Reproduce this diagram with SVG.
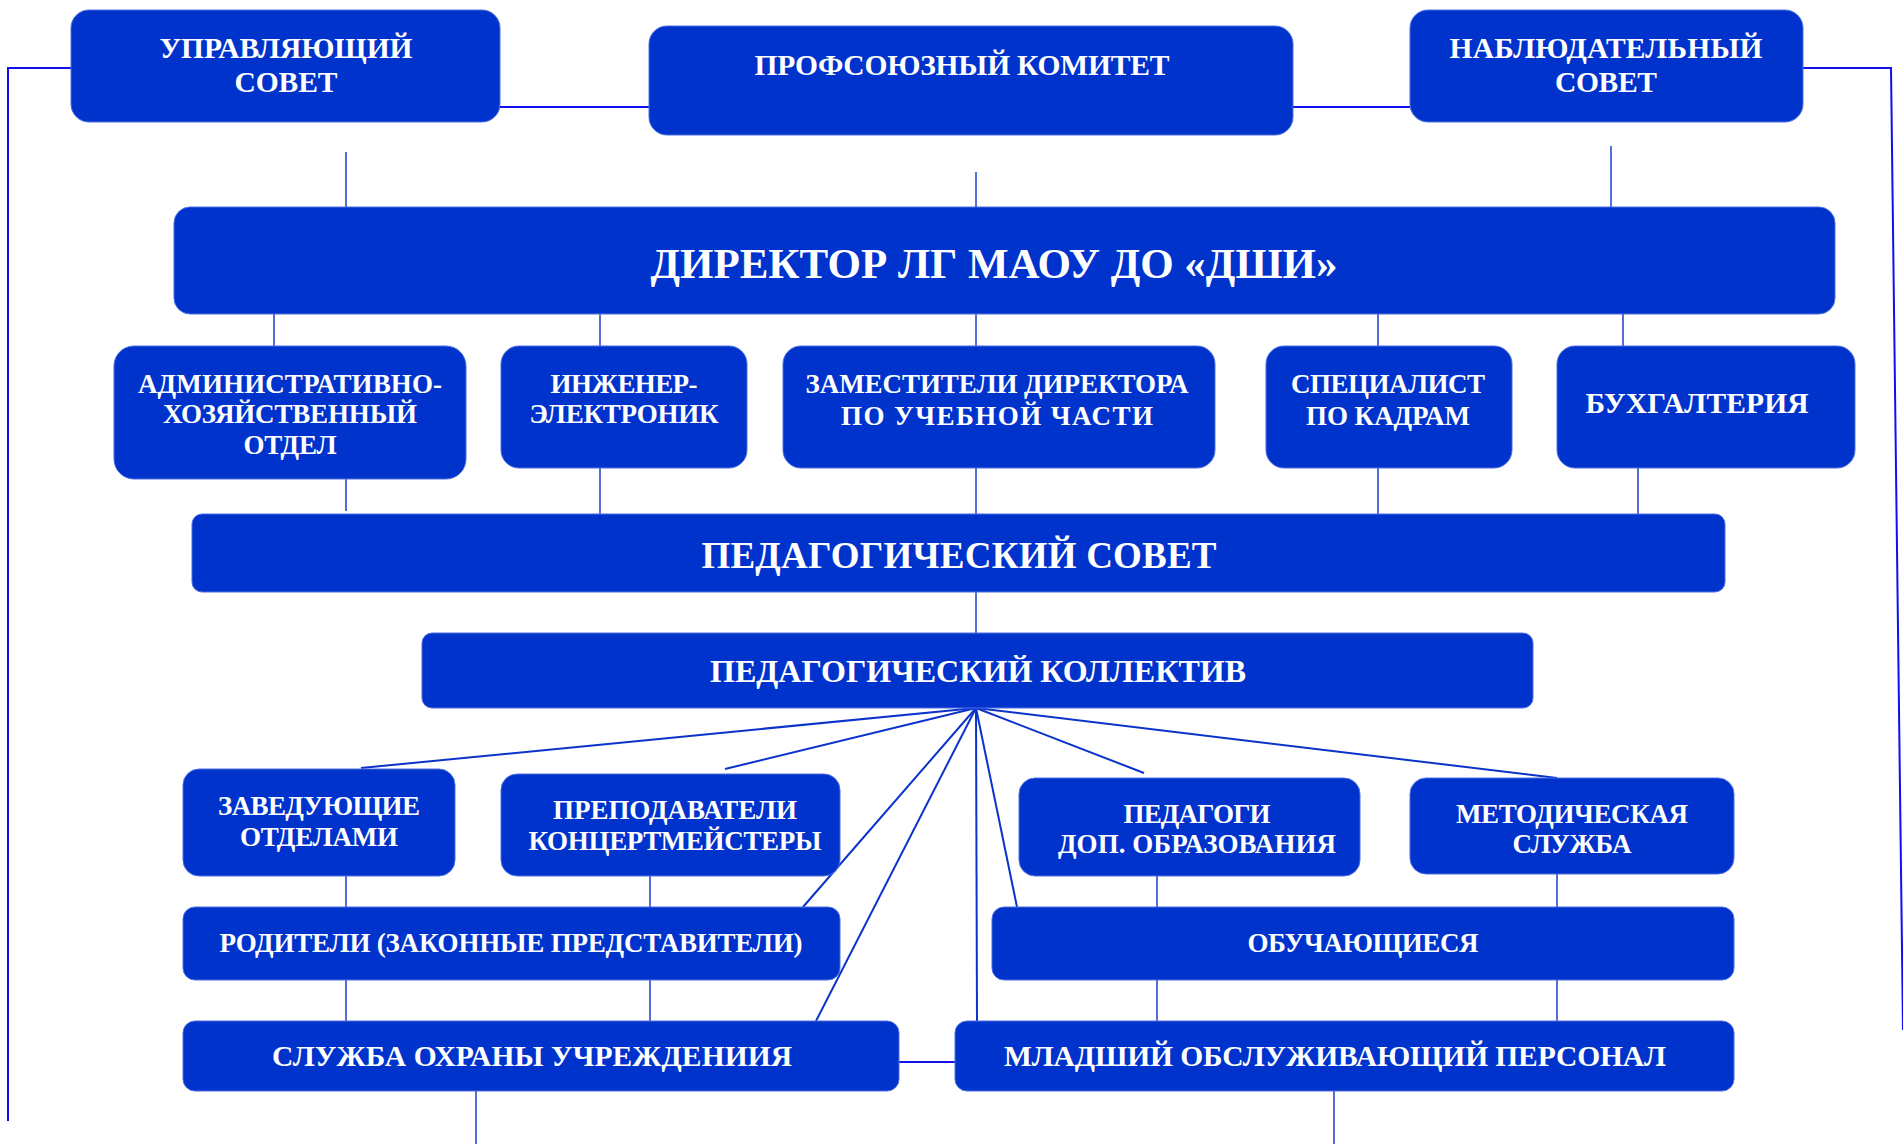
<svg xmlns="http://www.w3.org/2000/svg" width="1903" height="1144" viewBox="0 0 1903 1144">
<style>
.box{fill:#0033cc;stroke:#4d6fe0;stroke-width:1}
.t{fill:#ffffff;font-family:"Liberation Serif","Times New Roman",serif;font-weight:bold;text-anchor:middle}
.s27{font-size:27px}
.s29{font-size:29.5px}
.c{stroke:#2a4bd0;stroke-width:1.6;fill:none}
.o{stroke:#1010ee;stroke-width:2;fill:none}
.f{stroke:#0a33cc;stroke-width:2;fill:none}
</style>
<rect width="1903" height="1144" fill="#ffffff"/>
<g id="connectors">
  <polyline class="o" points="71,68 8,68 8,1121"/>
  <polyline class="o" points="1803,68 1891,68 1903,1030"/>
  <line class="o" x1="500" y1="107" x2="650" y2="107"/>
  <line class="o" x1="1293" y1="107" x2="1410" y2="107"/>
  <line class="c" x1="346" y1="152" x2="346" y2="207"/>
  <line class="c" x1="976" y1="172" x2="976" y2="207"/>
  <line class="c" x1="1611" y1="146" x2="1611" y2="207"/>
  <line class="c" x1="274" y1="314" x2="274" y2="346"/>
  <line class="c" x1="600" y1="314" x2="600" y2="346"/>
  <line class="c" x1="976" y1="314" x2="976" y2="346"/>
  <line class="c" x1="1378" y1="314" x2="1378" y2="346"/>
  <line class="c" x1="1623" y1="314" x2="1623" y2="346"/>
  <line class="c" x1="346" y1="479" x2="346" y2="511"/>
  <line class="c" x1="600" y1="468" x2="600" y2="514"/>
  <line class="c" x1="976" y1="468" x2="976" y2="514"/>
  <line class="c" x1="1378" y1="468" x2="1378" y2="514"/>
  <line class="c" x1="1638" y1="468" x2="1638" y2="514"/>
  <line class="c" x1="976" y1="592" x2="976" y2="633"/>
  <line class="f" x1="976" y1="708" x2="361" y2="768"/>
  <line class="f" x1="976" y1="708" x2="725" y2="769"/>
  <line class="f" x1="976" y1="708" x2="803" y2="907"/>
  <line class="f" x1="976" y1="708" x2="816" y2="1021"/>
  <line class="f" x1="976" y1="708" x2="977" y2="1021"/>
  <line class="f" x1="976" y1="708" x2="1017" y2="907"/>
  <line class="f" x1="976" y1="708" x2="1144" y2="773"/>
  <line class="f" x1="976" y1="708" x2="1557" y2="778"/>
  <line class="c" x1="346" y1="876" x2="346" y2="907"/>
  <line class="c" x1="650" y1="876" x2="650" y2="907"/>
  <line class="c" x1="346" y1="980" x2="346" y2="1021"/>
  <line class="c" x1="650" y1="980" x2="650" y2="1021"/>
  <line class="c" x1="1157" y1="876" x2="1157" y2="907"/>
  <line class="c" x1="1557" y1="874" x2="1557" y2="907"/>
  <line class="c" x1="1157" y1="980" x2="1157" y2="1021"/>
  <line class="c" x1="1557" y1="980" x2="1557" y2="1021"/>
  <line class="c" x1="476" y1="1091" x2="476" y2="1144"/>
  <line class="c" x1="1334" y1="1091" x2="1334" y2="1144"/>
  <line class="o" x1="899" y1="1062" x2="955" y2="1062" stroke-width="2.5"/>
</g>
<g id="upravl">
  <rect class="box" x="71" y="10" width="429" height="112" rx="18"/>
  <text class="t s29" x="286" y="58" textLength="253" lengthAdjust="spacing">УПРАВЛЯЮЩИЙ</text>
  <text class="t s29" x="286" y="92" textLength="103" lengthAdjust="spacing">СОВЕТ</text>
</g>
<g id="profsoyuz">
  <rect class="box" x="649" y="26" width="644" height="109" rx="18"/>
  <text class="t s29" x="962" y="75" textLength="415" lengthAdjust="spacing">ПРОФСОЮЗНЫЙ КОМИТЕТ</text>
</g>
<g id="nabl">
  <rect class="box" x="1410" y="10" width="393" height="112" rx="18"/>
  <text class="t s29" x="1606" y="58" textLength="313" lengthAdjust="spacing">НАБЛЮДАТЕЛЬНЫЙ</text>
  <text class="t s29" x="1606" y="92" textLength="102" lengthAdjust="spacing">СОВЕТ</text>
</g>
<g id="director">
  <rect class="box" x="174" y="207" width="1661" height="107" rx="16"/>
  <text class="t" style="font-size:43px" x="994" y="278" textLength="687" lengthAdjust="spacing">ДИРЕКТОР ЛГ МАОУ ДО «ДШИ»</text>
</g>
<g id="aho">
  <rect class="box" x="114" y="346" width="352" height="133" rx="20"/>
  <text class="t s27" x="290" y="393" textLength="304" lengthAdjust="spacing">АДМИНИСТРАТИВНО-</text>
  <text class="t s27" x="290" y="423" textLength="254" lengthAdjust="spacing">ХОЗЯЙСТВЕННЫЙ</text>
  <text class="t s27" x="290" y="454" textLength="93" lengthAdjust="spacing">ОТДЕЛ</text>
</g>
<g id="engineer">
  <rect class="box" x="501" y="346" width="246" height="122" rx="18"/>
  <text class="t s27" x="624" y="393" textLength="147" lengthAdjust="spacing">ИНЖЕНЕР-</text>
  <text class="t s27" x="624" y="423" textLength="189" lengthAdjust="spacing">ЭЛЕКТРОНИК</text>
</g>
<g id="zam">
  <rect class="box" x="783" y="346" width="432" height="122" rx="18"/>
  <text class="t s27" x="997" y="393" textLength="383" lengthAdjust="spacing">ЗАМЕСТИТЕЛИ ДИРЕКТОРА</text>
  <text class="t s27" x="997" y="425" textLength="312" lengthAdjust="spacing">ПО УЧЕБНОЙ ЧАСТИ</text>
</g>
<g id="kadry">
  <rect class="box" x="1266" y="346" width="246" height="122" rx="18"/>
  <text class="t s27" x="1388" y="393" textLength="194" lengthAdjust="spacing">СПЕЦИАЛИСТ</text>
  <text class="t s27" x="1388" y="425" textLength="164" lengthAdjust="spacing">ПО КАДРАМ</text>
</g>
<g id="buh">
  <rect class="box" x="1557" y="346" width="298" height="122" rx="18"/>
  <text class="t s29" x="1697" y="413" textLength="223" lengthAdjust="spacing">БУХГАЛТЕРИЯ</text>
</g>
<g id="pedsovet">
  <rect class="box" x="192" y="514" width="1533" height="78" rx="10"/>
  <text class="t" style="font-size:37px" x="959" y="568" textLength="515" lengthAdjust="spacing">ПЕДАГОГИЧЕСКИЙ СОВЕТ</text>
</g>
<g id="pedkollektiv">
  <rect class="box" x="422" y="633" width="1111" height="75" rx="10"/>
  <text class="t" style="font-size:32px" x="978" y="682" textLength="536" lengthAdjust="spacing">ПЕДАГОГИЧЕСКИЙ КОЛЛЕКТИВ</text>
</g>
<g id="zavotd">
  <rect class="box" x="183" y="769" width="272" height="107" rx="16"/>
  <text class="t s27" x="319" y="815" textLength="202" lengthAdjust="spacing">ЗАВЕДУЮЩИЕ</text>
  <text class="t s27" x="319" y="846" textLength="158" lengthAdjust="spacing">ОТДЕЛАМИ</text>
</g>
<g id="prepod">
  <rect class="box" x="501" y="774" width="339" height="102" rx="16"/>
  <text class="t s27" x="675" y="819" textLength="244" lengthAdjust="spacing">ПРЕПОДАВАТЕЛИ</text>
  <text class="t s27" x="675" y="850" textLength="293" lengthAdjust="spacing">КОНЦЕРТМЕЙСТЕРЫ</text>
</g>
<g id="pedagogi">
  <rect class="box" x="1019" y="778" width="341" height="98" rx="16"/>
  <text class="t s27" x="1197" y="823" textLength="147" lengthAdjust="spacing">ПЕДАГОГИ</text>
  <text class="t s27" x="1197" y="853" textLength="278" lengthAdjust="spacing">ДОП. ОБРАЗОВАНИЯ</text>
</g>
<g id="metod">
  <rect class="box" x="1410" y="778" width="324" height="96" rx="16"/>
  <text class="t s27" x="1572" y="823" textLength="232" lengthAdjust="spacing">МЕТОДИЧЕСКАЯ</text>
  <text class="t s27" x="1572" y="853" textLength="119" lengthAdjust="spacing">СЛУЖБА</text>
</g>
<g id="roditeli">
  <rect class="box" x="183" y="907" width="657" height="73" rx="12"/>
  <text class="t s27" x="511" y="952" textLength="583" lengthAdjust="spacing">РОДИТЕЛИ (ЗАКОННЫЕ ПРЕДСТАВИТЕЛИ)</text>
</g>
<g id="obuch">
  <rect class="box" x="992" y="907" width="742" height="73" rx="12"/>
  <text class="t s27" x="1363" y="952" textLength="231" lengthAdjust="spacing">ОБУЧАЮЩИЕСЯ</text>
</g>
<g id="ohrana">
  <rect class="box" x="183" y="1021" width="716" height="70" rx="12"/>
  <text class="t s29" x="532" y="1066" textLength="520" lengthAdjust="spacing">СЛУЖБА ОХРАНЫ УЧРЕЖДЕНИИЯ</text>
</g>
<g id="mladshiy">
  <rect class="box" x="955" y="1021" width="779" height="70" rx="12"/>
  <text class="t s29" x="1335" y="1066" textLength="662" lengthAdjust="spacing">МЛАДШИЙ ОБСЛУЖИВАЮЩИЙ ПЕРСОНАЛ</text>
</g>
</svg>
